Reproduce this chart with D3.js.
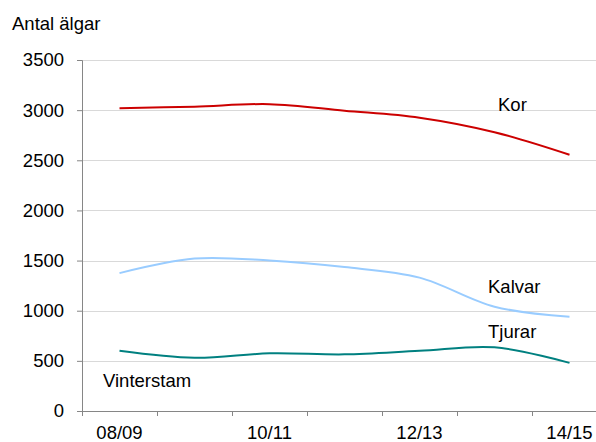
<!DOCTYPE html>
<html>
<head>
<meta charset="utf-8">
<script src="https://cdn.jsdelivr.net/npm/d3@7"></script>
<style>
  body { margin: 0; background: #fff; }
  text { font-family: "Liberation Sans", Arial, sans-serif; fill: #000; }
</style>
</head>
<body>
<div id="chart"></div>
<script>
// data
var seasons = ["08/09", "09/10", "10/11", "11/12", "12/13", "13/14", "14/15"];
var kor = [3020, 3035, 3060, 2995, 2925, 2780, 2555];
var kalvar = [1375, 1520, 1500, 1435, 1330, 1040, 940];
var tjurar = [600, 530, 575, 565, 600, 635, 480];
var yTicks = [0, 500, 1000, 1500, 2000, 2500, 3000, 3500];
var xLabels = ["08/09", "10/11", "12/13", "14/15"];

var series = [
    { name: "Kor", values: kor, color: "#cc0000", lx: 498, ly: 111 },
    { name: "Kalvar", values: kalvar, color: "#99ccff", lx: 488, ly: 293 },
    { name: "Tjurar", values: tjurar, color: "#008080", lx: 488, ly: 338 }
];

var svgWidth = 596;
var svgHeight = 442;

var svg = d3.select("#chart")
    .append("svg")
    .attr("width", svgWidth)
    .attr("height", svgHeight);

var plotLeft = 82, plotTop = 60, plotBottom = 411;

//scales
var xScale = d3.scaleBand()
    .domain(seasons)
    .range([plotLeft, 607]);

var yScale = d3.scaleLinear()
    .domain([0, 3500])
    .range([plotBottom, plotTop]);

var cx = d => xScale(d) + xScale.bandwidth() / 2;

// gridlines
svg.append("g")
    .selectAll("line")
    .data(yTicks.filter(d => d > 0))
    .enter()
    .append("line")
    .attr("x1", plotLeft)
    .attr("x2", svgWidth)
    .attr("y1", d => Math.round(yScale(d)) + 0.5)
    .attr("y2", d => Math.round(yScale(d)) + 0.5)
    .attr("stroke", "#d9d9d9")
    .attr("stroke-width", 1);

// y axis
var leftAxis = d3.axisLeft(yScale)
    .tickValues(yTicks)
    .tickFormat(d3.format("d"))
    .tickSize(5)
    .tickPadding(13);

var yAxis = svg.append("g")
    .attr("transform", `translate(${plotLeft}, 0)`)
    .call(leftAxis);
yAxis.select(".domain").attr("stroke", "#868686");
yAxis.selectAll(".tick line").attr("stroke", "#868686");
yAxis.selectAll("text")
    .style("font-size", "18.5px")
    .style("font-family", "Liberation Sans, Arial, sans-serif");

// x axis: ticks between categories, labels every second season
var xg = svg.append("g");
xg.append("line")
    .attr("x1", plotLeft)
    .attr("x2", svgWidth)
    .attr("y1", plotBottom + 0.5)
    .attr("y2", plotBottom + 0.5)
    .attr("stroke", "#868686");
xg.selectAll(".xtick")
    .data(seasons)
    .enter()
    .append("line")
    .attr("class", "xtick")
    .attr("x1", d => Math.round(xScale(d)) + 0.5)
    .attr("x2", d => Math.round(xScale(d)) + 0.5)
    .attr("y1", plotBottom)
    .attr("y2", plotBottom + 5)
    .attr("stroke", "#868686");
xg.selectAll(".xlabel")
    .data(xLabels)
    .enter()
    .append("text")
    .attr("class", "xlabel")
    .attr("x", d => cx(d))
    .attr("y", 439)
    .attr("text-anchor", "middle")
    .style("font-size", "18.5px")
    .text(d => d);

// lines
var line = d3.line()
    .x((d, i) => cx(seasons[i]))
    .y(d => yScale(d))
    .curve(d3.curveCatmullRom.alpha(0.5));

svg.selectAll(".series")
    .data(series)
    .enter()
    .append("path")
    .attr("class", "series")
    .attr("d", d => line(d.values))
    .attr("fill", "none")
    .attr("stroke", d => d.color)
    .attr("stroke-width", 2);

svg.selectAll(".slabel")
    .data(series)
    .enter()
    .append("text")
    .attr("class", "slabel")
    .attr("x", d => d.lx)
    .attr("y", d => d.ly)
    .style("font-size", "18.5px")
    .text(d => d.name);

svg.append("text")
    .attr("x", 103)
    .attr("y", 387)
    .style("font-size", "18.5px")
    .text("Vinterstam");

svg.append("text")
    .attr("x", 12)
    .attr("y", 30)
    .style("font-size", "18.5px")
    .text("Antal älgar");
</script>
</body>
</html>
